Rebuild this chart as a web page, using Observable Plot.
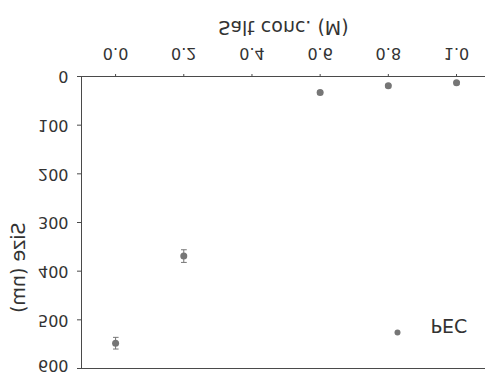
<!DOCTYPE html>
<html>
<head>
<meta charset="utf-8">
<script src="https://cdn.jsdelivr.net/npm/d3@7"></script>
<script src="https://cdn.jsdelivr.net/npm/@observablehq/plot@0.6"></script>
<style>
  html, body { margin: 0; padding: 0; background: #fff; }
  #chart svg { display: block; transform: scaleY(-1); }
</style>
</head>
<body>
<div id="chart"></div>
<script>
// Data read from the (vertically mirrored) reference picture
const saltConc = [0.0, 0.2, 0.6, 0.8, 1.0];
const sizeNm = [548, 369, 33, 19, 13];
const sizeErr = [12, 13, 3, 3, 3];
const xTicks = [0.0, 0.2, 0.4, 0.6, 0.8, 1.0];
const yTicks = [0, 100, 200, 300, 400, 500];
const yTopTick = [600];
const xDomain = [-0.1, 1.085];
const yDomain = [0, 600];
const seriesName = "PEC";
const xLabel = "Salt conc. (M)";
const yLabel = "Size (nm)";

const data = saltConc.map((x, i) => ({x, y: sizeNm[i], e: sizeErr[i]}));
const ink = "#333";
const lineInk = "#4a4a4a";
const dotColor = "#767676";

const chart = Plot.plot({
  width: 485,
  height: 376,
  marginLeft: 81,
  marginRight: 0,
  marginTop: 7,
  marginBottom: 77,
  x: {domain: xDomain},
  y: {domain: yDomain},
  style: {fontFamily: "DejaVu Sans", color: ink, background: "white"},
  marks: [
    Plot.ruleY([yDomain[0], yDomain[1]], {stroke: lineInk, insetLeft: -4}),
    Plot.ruleX([xDomain[0]], {stroke: lineInk}),
    Plot.axisX({ticks: xTicks, tickFormat: d => d.toFixed(1), tickSize: 3, tickPadding: 14, fontSize: 16, stroke: lineInk, label: null}),
    Plot.axisY({ticks: yTicks, tickSize: 4, tickPadding: 9, fontSize: 16, stroke: lineInk, label: null}),
    Plot.axisY({ticks: yTopTick, tickSize: 0, tickPadding: 13, fontSize: 16, dy: 3, label: null}),
    Plot.link(data, {x1: "x", x2: "x", y1: d => d.y - d.e, y2: d => d.y + d.e, stroke: dotColor, strokeWidth: 1, markerStart: "tick", markerEnd: "tick"}),
    Plot.dot(data, {x: "x", y: "y", r: 3.5, fill: dotColor}),
    Plot.text([xLabel], {text: d => d, frameAnchor: "bottom", dy: 56, fontSize: 19, fill: ink}),
    Plot.text([yLabel], {text: d => d, frameAnchor: "left", dx: -63, rotate: -90, fontSize: 19, fill: ink}),
    Plot.dot([seriesName], {frameAnchor: "top-right", dx: -88, dy: 36, r: 3, fill: dotColor}),
    Plot.text([seriesName], {text: d => d, frameAnchor: "top-right", dx: -55, dy: 36, textAnchor: "start", fontSize: 19, fill: ink})
  ]
});
document.getElementById("chart").append(chart);
</script>
</body>
</html>
